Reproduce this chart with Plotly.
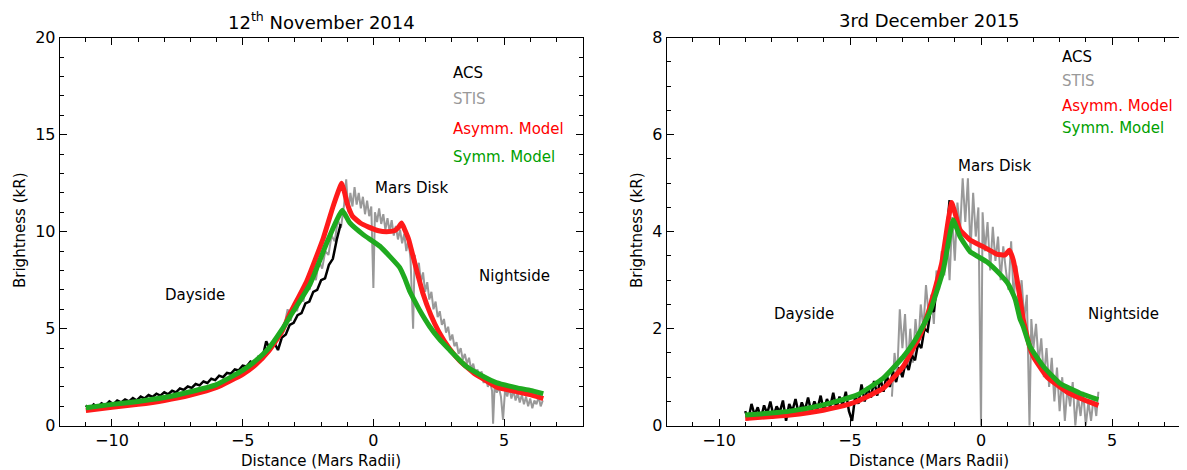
import plotly.graph_objects as go

# ---------------- Left panel: 12th November 2014 ----------------
acs1_x = [-11.0,-10.85,-10.7,-10.55,-10.4,-10.25,-10.1,-9.95,-9.8,-9.65,-9.5,-9.35,-9.2,-9.05,-8.9,-8.75,-8.6,-8.45,-8.3,-8.15,
          -8.0,-7.85,-7.7,-7.55,-7.4,-7.25,-7.1,-6.95,-6.8,-6.65,-6.5,-6.35,-6.2,-6.05,-5.9,-5.75,-5.6,-5.45,-5.3,-5.15,
          -5.0,-4.85,-4.7,-4.55,-4.4,-4.25,-4.1,-3.95,-3.8,-3.65,-3.5,-3.35,-3.2,-3.05,-2.9,-2.75,-2.6,-2.45,-2.3,-2.15,
          -2.0,-1.85,-1.7,-1.55,-1.4,-1.25]
acs1_y = [1.05,0.85,1.10,0.95,1.15,1.05,1.25,1.10,1.30,1.20,1.35,1.25,1.42,1.30,1.50,1.40,1.58,1.48,1.65,1.55,
          1.72,1.62,1.80,1.72,1.92,1.85,2.02,1.95,2.15,2.08,2.28,2.20,2.42,2.35,2.58,2.50,2.72,2.68,2.90,2.85,
          3.10,3.05,3.30,3.20,3.55,3.45,4.35,3.90,4.30,3.90,4.55,4.70,5.20,5.30,5.70,5.80,6.30,6.40,6.90,7.00,
          7.50,7.60,8.30,8.60,9.60,10.40]

stis1_x = [-3.40,-3.28,-3.16,-3.04,-2.92,-2.80,-2.68,-2.56,-2.44,-2.32,-2.20,-2.08,-1.96,-1.84,-1.72,-1.60,-1.48,-1.36,-1.24,-1.12,
           -1.04,-0.96,-0.88,-0.80,-0.72,-0.64,-0.56,-0.48,-0.40,-0.32,-0.24,-0.16,-0.08,0.00,0.06,0.14,0.22,0.30,0.38,0.46,
           0.54,0.62,0.70,0.78,0.86,0.94,1.02,1.10,1.18,1.26,1.34,1.42,1.52,1.58,1.66,1.74,1.82,1.90,1.98,2.06,
           2.14,2.22,2.30,2.38,2.46,2.54,2.62,2.70,2.78,2.86,2.94,3.02,3.10,3.18,3.26,3.34,3.42,3.50,3.58,3.66,
           3.74,3.82,3.90,3.98,4.06,4.14,4.22,4.30,4.38,4.46,4.54,4.58,4.64,4.72,4.80,4.88,4.96,5.04,5.12,5.20,
           5.28,5.36,5.44,5.52,5.60,5.68,5.76,5.84,5.92,6.00,6.08,6.16,6.24,6.32,6.40,6.48]
stis1_y = [5.2,6.0,5.4,6.3,5.9,6.8,6.4,7.3,7.0,7.9,7.5,8.5,8.1,9.0,8.8,9.8,9.5,10.6,10.2,11.4,
           12.7,11.0,12.0,11.3,12.3,11.4,12.0,11.2,11.8,10.9,11.6,10.8,11.3,7.1,11.0,10.5,11.2,10.4,10.9,10.1,
           10.7,10.0,10.6,9.8,10.3,9.6,10.1,9.4,9.9,9.0,9.6,8.6,5.0,8.8,7.9,8.4,7.4,7.9,6.9,7.4,
           6.5,6.9,6.0,6.4,5.6,5.9,5.2,5.5,4.8,5.1,4.4,4.7,4.1,4.3,3.7,4.0,3.4,3.7,3.2,3.5,
           2.9,3.2,2.7,2.9,2.5,2.8,2.2,2.5,2.0,2.3,1.8,0.1,2.1,1.7,2.0,1.5,0.3,1.9,1.5,2.0,
           1.4,1.8,1.3,1.7,1.2,1.6,1.1,1.5,1.0,1.4,0.9,1.3,1.1,1.5,1.0,1.3]

asym1_x = [-11.0,-10.0,-9.0,-8.0,-7.0,-6.0,-5.0,-4.5,-4.0,-3.5,-3.2,-2.55,-1.92,-1.53,-1.21,-1.1,-1.0,-0.8,-0.5,-0.2,
           0.2,0.5,0.8,0.95,1.08,1.2,1.35,1.6,1.9,2.2,2.5,2.9,3.3,3.9,4.4,4.7,4.8,5.5,6.0,6.5]
asym1_y = [0.78,0.95,1.10,1.30,1.58,1.97,2.65,3.15,3.85,4.85,5.75,7.45,9.65,11.35,12.50,12.0,11.45,10.8,10.45,10.25,
           10.05,10.0,10.05,10.2,10.45,10.1,9.6,8.3,6.8,5.7,4.85,4.0,3.35,2.65,2.25,2.0,1.95,1.75,1.6,1.4]

sym1_x = [-11.0,-10.0,-9.0,-8.0,-7.0,-6.0,-5.0,-4.5,-4.0,-3.5,-3.2,-2.42,-1.79,-1.40,-1.19,-0.90,-0.39,0.25,1.01,1.2,
          1.4,1.65,1.77,2.16,2.5,2.92,3.56,4.19,4.70,5.5,6.0,6.5]
sym1_y = [0.92,1.10,1.25,1.45,1.75,2.12,2.85,3.35,4.0,4.95,5.6,7.3,9.4,10.6,11.1,10.45,9.85,9.25,8.15,7.6,
          6.9,6.25,5.95,5.1,4.5,3.9,3.05,2.55,2.22,1.95,1.82,1.65]

# ---------------- Right panel: 3rd December 2015 ----------------
acs2_x = [-9.00,-8.88,-8.76,-8.64,-8.52,-8.40,-8.28,-8.16,-8.04,-7.92,-7.80,-7.68,-7.56,-7.44,-7.32,-7.20,-7.08,-6.96,-6.84,-6.72,
          -6.60,-6.48,-6.36,-6.24,-6.12,-6.00,-5.88,-5.76,-5.64,-5.52,-5.40,-5.28,-5.16,-5.04,-4.92,-4.80,-4.68,-4.56,-4.44,-4.32,
          -4.20,-4.08,-3.96,-3.84,-3.72,-3.60,-3.48,-3.36,-3.24,-3.12,-3.00,-2.88,-2.76,-2.64,-2.52,-2.40,-2.28,-2.16,-2.04,-1.92,
          -1.80,-1.68,-1.56,-1.44,-1.32,-1.20]
acs2_y = [0.30,0.12,0.45,0.22,0.38,0.15,0.42,0.25,0.50,0.20,0.40,0.28,0.52,0.10,0.45,0.30,0.55,0.25,0.48,0.32,
          0.58,0.28,0.50,0.35,0.62,0.30,0.55,0.38,0.68,0.35,0.60,0.42,0.70,0.30,0.10,0.62,0.45,0.85,0.50,0.80,
          0.58,0.92,0.62,0.98,0.70,1.05,0.80,1.12,0.90,1.20,1.00,1.30,1.15,1.45,1.35,1.70,1.60,2.00,1.95,2.40,
          2.35,2.90,2.95,3.60,3.90,4.65]

stis2_x = [-3.40,-3.30,-3.20,-3.10,-3.00,-2.90,-2.80,-2.70,-2.60,-2.50,-2.40,-2.30,-2.20,-2.10,-2.00,-1.90,-1.80,-1.70,-1.60,-1.50,
           -1.40,-1.30,-1.20,-1.10,-1.00,-0.90,-0.80,-0.70,-0.60,-0.50,-0.40,-0.30,-0.20,-0.10,0.00,0.06,0.15,0.25,0.35,0.45,
           0.55,0.65,0.75,0.85,0.95,1.05,1.15,1.25,1.35,1.45,1.55,1.65,1.75,1.85,1.92,2.00,2.10,2.20,2.30,2.40,
           2.50,2.60,2.70,2.80,2.90,3.00,3.10,3.20,3.30,3.40,3.50,3.60,3.70,3.80,3.90,4.00,4.10,4.20,4.30,4.40,4.48]
stis2_y = [0.6,1.5,1.0,2.4,1.6,2.3,1.2,2.0,1.3,2.2,1.6,2.5,2.0,2.9,2.3,2.7,2.1,3.2,2.8,3.6,
           3.1,4.0,3.0,4.3,3.4,4.6,4.0,5.1,4.2,5.1,3.6,4.8,3.9,4.5,0.0,4.4,3.6,4.2,3.2,4.1,
           3.4,3.9,3.0,3.7,3.2,2.8,3.8,2.6,3.3,2.4,3.0,2.2,2.7,0.0,2.2,1.6,2.1,1.3,1.8,1.0,
           1.6,0.8,1.4,0.5,1.2,0.3,1.0,0.1,0.8,0.4,0.9,0.0,0.6,0.2,0.7,0.0,0.5,0.1,0.6,0.2,0.7]

asym2_x = [-9.0,-8.0,-7.29,-6.02,-5.0,-4.74,-3.73,-2.97,-2.58,-2.33,-1.95,-1.5,-1.25,-1.12,-0.99,-0.8,-0.42,0.09,0.6,0.92,
           1.08,1.23,1.42,1.61,1.87,2.0,2.51,3.27,3.90,4.48]
asym2_y = [0.15,0.19,0.22,0.32,0.45,0.50,0.77,1.22,1.60,1.85,2.45,3.35,4.24,4.60,4.38,4.04,3.83,3.69,3.54,3.52,
           3.62,3.42,2.87,2.20,1.60,1.42,1.01,0.70,0.54,0.42]

sym2_x = [-9.0,-8.0,-7.29,-6.02,-4.74,-3.73,-2.97,-2.65,-2.33,-1.95,-1.44,-1.18,-1.06,-0.8,-0.42,0.22,0.73,1.04,1.30,1.49,
          1.61,1.87,2.38,3.02,3.78,4.48]
sym2_y = [0.22,0.26,0.30,0.43,0.63,0.98,1.42,1.65,1.94,2.35,3.21,3.97,4.24,3.90,3.59,3.38,3.12,2.92,2.62,2.20,
          2.05,1.63,1.22,0.87,0.67,0.54]

# ---------------- Text ----------------
titles = ["12<sup>th</sup> November 2014", "3rd December 2015"]
legend_labels = ["ACS", "STIS", "Asymm. Model", "Symm. Model"]
legend_colors = ["#000000", "#999999", "#ff0000", "#00a000"]
legend_y1 = [18.2, 16.85, 15.3, 13.85]
legend_y2 = [7.61, 7.11, 6.59, 6.13]
region_labels = ["Mars Disk", "Dayside", "Nightside"]
region_pos1 = [(1.47, 12.24), (-6.81, 6.74), (5.39, 7.72)]
region_pos2 = [(0.53, 5.36), (-6.77, 2.30), (5.44, 2.30)]
xtitle = "Distance (Mars Radii)"
ytitle = "Brightness (kR)"

FONT = "DejaVu Sans, Verdana, sans-serif"
GRAY = "#999999"
RED = "#ff1a1a"
GREEN = "#1faa1f"

fig = go.Figure()

def add_panel(xa, ya, acs_x, acs_y, stis_x, stis_y, as_x, as_y, sy_x, sy_y):
    fig.add_trace(go.Scatter(x=stis_x, y=stis_y, mode="lines", line=dict(color=GRAY, width=2),
                             xaxis=xa, yaxis=ya, showlegend=False, hoverinfo="skip"))
    fig.add_trace(go.Scatter(x=acs_x, y=acs_y, mode="lines", line=dict(color="black", width=2.5),
                             xaxis=xa, yaxis=ya, showlegend=False, hoverinfo="skip"))
    fig.add_trace(go.Scatter(x=as_x, y=as_y, mode="lines", line=dict(color=RED, width=5, shape="spline", smoothing=0.4),
                             xaxis=xa, yaxis=ya, showlegend=False, hoverinfo="skip"))
    fig.add_trace(go.Scatter(x=sy_x, y=sy_y, mode="lines", line=dict(color=GREEN, width=5, shape="spline", smoothing=0.4),
                             xaxis=xa, yaxis=ya, showlegend=False, hoverinfo="skip"))

add_panel("x", "y", acs1_x, acs1_y, stis1_x, stis1_y, asym1_x, asym1_y, sym1_x, sym1_y)
add_panel("x2", "y2", acs2_x, acs2_y, stis2_x, stis2_y, asym2_x, asym2_y, sym2_x, sym2_y)

# The page body has an 8 px margin, so the figure is 8 px smaller and all positions shifted by 8 px.
OFF = 8
W, H = 1187 - OFF, 470 - OFF
ydom = [(H - (425.7 - OFF)) / H, (H - (37.7 - OFF)) / H]
x1dom = [(59.7 - OFF) / W, (582.5 - OFF) / W]
x2dom = [(666.6 - OFF) / W, (1186.0 - OFF) / W]

def ax(minor_dtick, **kw):
    d = dict(showline=True, linecolor="black", linewidth=1, mirror="ticks", ticks="inside",
             ticklen=7, tickwidth=1, tickcolor="black", showgrid=False, zeroline=False, automargin=False,
             tickfont=dict(family=FONT, size=16, color="black"),
             minor=dict(ticks="inside", ticklen=4, tickwidth=1, tickcolor="black", showgrid=False, dtick=minor_dtick))
    d.update(kw)
    return d

fig.update_layout(
    template="none",
    width=W, height=H, margin=dict(l=0, r=0, t=0, b=0, autoexpand=False),
    paper_bgcolor="white", plot_bgcolor="white", showlegend=False,
    font=dict(family=FONT, size=15, color="black"),
    xaxis=ax(1, domain=x1dom, range=[-12, 8], tickvals=[-10, -5, 0, 5], ticktext=["\u221210", "\u22125", "0", "5"], anchor="y"),
    yaxis=ax(1, domain=ydom, range=[0, 20], tickvals=[0, 5, 10, 15, 20], anchor="x"),
    xaxis2=ax(1, domain=x2dom, range=[-12, 7.824], tickvals=[-10, -5, 0, 5], ticktext=["\u221210", "\u22125", "0", "5"], anchor="y2"),
    yaxis2=ax(0.5, domain=ydom, range=[0, 8], tickvals=[0, 2, 4, 6, 8], anchor="x2"),
)

def px(x):
    return (x - OFF) / W

def py(y):
    return 1 - (y - OFF) / H

ann = []
for t, cx in zip(titles, (321, 929)):
    ann.append(dict(text=t, x=px(cx), y=py(21), xref="paper", yref="paper", showarrow=False,
                    font=dict(family=FONT, size=18), xanchor="center", yanchor="middle"))
for cx in (321, 929):
    ann.append(dict(text=xtitle, x=px(cx), y=py(461), xref="paper", yref="paper", showarrow=False,
                    font=dict(family=FONT, size=15), xanchor="center", yanchor="middle"))
for cx in (20, 637):
    ann.append(dict(text=ytitle, x=px(cx), y=py(231), xref="paper", yref="paper", showarrow=False,
                    textangle=-90, font=dict(family=FONT, size=15), xanchor="center", yanchor="middle"))
for lab, col, yy in zip(legend_labels, legend_colors, legend_y1):
    ann.append(dict(text=lab, x=2.98, y=yy, xref="x", yref="y", showarrow=False, xanchor="left", yanchor="middle",
                    font=dict(family=FONT, size=15, color=col)))
for lab, col, yy in zip(legend_labels, legend_colors, legend_y2):
    ann.append(dict(text=lab, x=3.0, y=yy, xref="x2", yref="y2", showarrow=False, xanchor="left", yanchor="middle",
                    font=dict(family=FONT, size=15, color=col)))
for lab, (xx, yy) in zip(region_labels, region_pos1):
    ann.append(dict(text=lab, x=xx, y=yy, xref="x", yref="y", showarrow=False, xanchor="center", yanchor="middle",
                    font=dict(family=FONT, size=15, color="black")))
for lab, (xx, yy) in zip(region_labels, region_pos2):
    ann.append(dict(text=lab, x=xx, y=yy, xref="x2", yref="y2", showarrow=False, xanchor="center", yanchor="middle",
                    font=dict(family=FONT, size=15, color="black")))

fig.update_layout(annotations=ann)
fig.write_html("out.html")
